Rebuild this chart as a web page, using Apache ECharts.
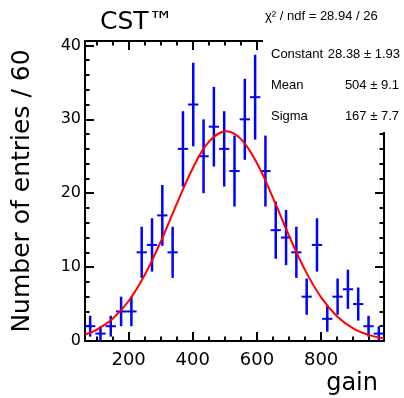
<!DOCTYPE html>
<html><head><meta charset="utf-8">
<script src="https://cdn.jsdelivr.net/npm/echarts@6/dist/echarts.min.js"></script>
<style>html,body{margin:0;padding:0;background:#fff}#c{width:404px;height:398px}</style>
</head><body><div id="c"></div>
<script>
// Histogram bins (gain), counts and statistical errors
const binCenters = [80.07, 112.21, 144.34, 176.48, 208.62, 240.76, 272.90, 305.03, 337.17, 369.31,
  401.45, 433.59, 465.72, 497.86, 530.00, 562.14, 594.28, 626.41, 658.55, 690.69,
  722.83, 754.97, 787.10, 819.24, 851.38, 883.52, 915.66, 947.79, 979.93];
const counts = [2, 1, 2, 4, 4, 12, 13, 17, 12, 26,
  32, 25, 29, 26, 23, 30, 33, 23, 15, 14,
  12, 6, 13, 3, 6, 7, 5, 2, 1];
const errors = [1.41, 1.00, 1.41, 2.00, 2.00, 3.46, 3.61, 4.12, 3.46, 5.10,
  5.66, 5.00, 5.39, 5.10, 4.80, 5.48, 5.74, 4.80, 3.87, 3.74,
  3.46, 2.45, 3.61, 1.73, 2.45, 2.65, 2.24, 1.41, 1.00];
const binHalfWidth = 16.07;

// Gaussian fit curve, sampled along the x range
const fitX = [64, 100, 150, 200, 250, 300, 350, 400, 450, 504, 550, 600, 650, 700, 750, 800, 850, 900, 950, 996];
const fitY = [0.88, 1.52, 3.00, 5.41, 8.93, 13.46, 18.55, 23.38, 26.94, 28.38, 27.32, 24.06, 19.37, 14.25, 9.59, 5.90, 3.32, 1.71, 0.80, 0.37];

const statNames = ['Constant', 'Mean', 'Sigma'];
const statValues = ['28.38 \u00b1 1.93', '504 \u00b1 9.1', '167 \u00b1 7.7'];
const chi2Text = '\u03c7\u00b2 / ndf = 28.94 / 26';

const xMin = 64, xMax = 996, yMin = 0, yMax = 40.6;

const chart = echarts.init(document.getElementById('c'), null, {renderer: 'canvas'});

const lineStyle = {color: '#000', width: 2};
function xAxisCfg(pos, main) {
  return {
    type: 'value', position: pos, min: xMin, max: xMax, gridIndex: 0,
    axisLine: {show: true, onZero: false, lineStyle: lineStyle},
    axisTick: {show: true, inside: true, length: 9, lineStyle: {color: '#000', width: 2}},
    minorTick: {show: true, splitNumber: 4, length: 4.5, lineStyle: {color: '#000', width: 2}},
    splitLine: {show: false}, minorSplitLine: {show: false},
    axisLabel: main ? {show: true, showMinLabel: false, showMaxLabel: false, margin: 10,
      fontFamily: 'DejaVu Sans', fontSize: 18, color: '#000'} : {show: false},
    name: main ? 'gain' : '',
    nameLocation: 'end', nameGap: -6,
    nameTextStyle: {fontFamily: 'DejaVu Sans', fontSize: 24, color: '#000', align: 'right', verticalAlign: 'top', padding: [31, 0, 0, 0]}
  };
}
function yAxisCfg(pos, main) {
  return {
    type: 'value', position: pos, min: yMin, max: yMax, interval: 10, gridIndex: 0,
    axisLine: {show: true, onZero: false, lineStyle: lineStyle},
    axisTick: {show: true, inside: true, length: 9, lineStyle: {color: '#000', width: 2}},
    minorTick: {show: true, splitNumber: 5, length: 4.5, lineStyle: {color: '#000', width: 2}},
    splitLine: {show: false}, minorSplitLine: {show: false},
    axisLabel: main ? {show: true, showMaxLabel: false, margin: 4,
      fontFamily: 'DejaVu Sans', fontSize: 16, color: '#000'} : {show: false},
    name: main ? 'Number of entries / 60' : '',
    nameLocation: 'middle', nameGap: 50,
    nameTextStyle: {fontFamily: 'DejaVu Sans', fontSize: 25, color: '#000'}
  };
}

const errData = binCenters.map((x, i) => [x, counts[i], errors[i]]);
const fitData = fitX.map((x, i) => [x, fitY[i]]);

chart.setOption({
  animation: false,
  backgroundColor: '#fff',
  grid: {left: 85, top: 41, right: 20, bottom: 57, containLabel: false},
  xAxis: [xAxisCfg('bottom', true), xAxisCfg('top', false)],
  yAxis: [yAxisCfg('left', true), yAxisCfg('right', false)],
  series: [
    {
      type: 'custom', name: 'data', xAxisIndex: 0, yAxisIndex: 0, clip: true, z: 3,
      data: errData,
      renderItem: function (params, api) {
        const x = api.value(0), y = api.value(1), e = api.value(2);
        const top = api.coord([x, y + e]);
        const bot = api.coord([x, Math.max(y - e, 0)]);
        const l = api.coord([x - binHalfWidth, y]);
        const r = api.coord([x + binHalfWidth, y]);
        return {type: 'group', children: [
          {type: 'line', shape: {x1: top[0], y1: top[1], x2: bot[0], y2: bot[1]}, style: {stroke: '#0000ff', lineWidth: 2.5}},
          {type: 'line', shape: {x1: l[0], y1: l[1], x2: r[0], y2: r[1]}, style: {stroke: '#0000ff', lineWidth: 2}},
          {type: 'rect', shape: {x: top[0] - 0.5, y: l[1] - 0.5, width: 1, height: 1}, style: {fill: '#000'}}
        ]};
      }
    },
    {
      type: 'line', name: 'fit', xAxisIndex: 0, yAxisIndex: 0, data: fitData, smooth: 0.4,
      showSymbol: false, clip: true, z: 4,
      lineStyle: {color: '#ff0000', width: 2}
    }
  ],
  graphic: [
    {type: 'rect', z: 100, shape: {x: 263, y: 0, width: 141, height: 132}, style: {fill: '#fff'}},
    {type: 'text', z: 101, left: 100, top: 10, style: {text: 'CST\u2122', fontFamily: 'DejaVu Sans', fontSize: 25, fill: '#000'}},
    {type: 'text', z: 101, x: 265, y: 16, style: {text: chi2Text, fontFamily: 'Liberation Sans', fontSize: 13, fill: '#000', verticalAlign: 'middle'}},
    {type: 'text', z: 101, x: 271, y: 54, style: {text: statNames[0], fontFamily: 'Liberation Sans', fontSize: 13, fill: '#000', verticalAlign: 'middle'}},
    {type: 'text', z: 101, x: 271, y: 85, style: {text: statNames[1], fontFamily: 'Liberation Sans', fontSize: 13, fill: '#000', verticalAlign: 'middle'}},
    {type: 'text', z: 101, x: 271, y: 116, style: {text: statNames[2], fontFamily: 'Liberation Sans', fontSize: 13, fill: '#000', verticalAlign: 'middle'}},
    {type: 'text', z: 101, x: 400, y: 54, style: {text: statValues[0], fontFamily: 'Liberation Sans', fontSize: 13, fill: '#000', align: 'right', verticalAlign: 'middle'}},
    {type: 'text', z: 101, x: 399, y: 85, style: {text: statValues[1], fontFamily: 'Liberation Sans', fontSize: 13, fill: '#000', align: 'right', verticalAlign: 'middle'}},
    {type: 'text', z: 101, x: 399, y: 116, style: {text: statValues[2], fontFamily: 'Liberation Sans', fontSize: 13, fill: '#000', align: 'right', verticalAlign: 'middle'}}
  ]
});
</script>
</body></html>
